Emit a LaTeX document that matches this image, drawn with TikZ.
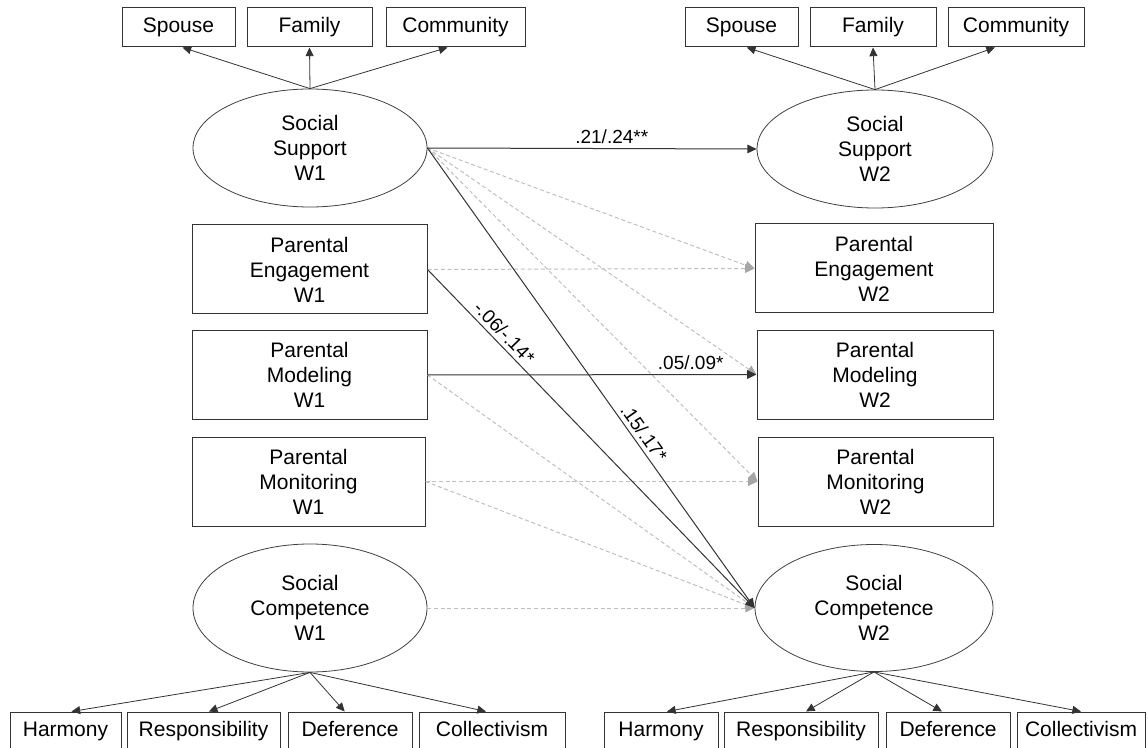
\documentclass[tikz,border=0pt]{standalone}
\usepackage{fontspec}
\setmainfont{Liberation Sans}
\usetikzlibrary{arrows.meta,shapes.geometric}

\begin{document}
\begin{tikzpicture}[x=0.75pt,y=-0.75pt,
  every node/.style={font=\fontsize{15.75pt}{18.75pt}\selectfont, inner sep=0pt, align=center},
  box/.style={draw=black!80, line width=0.75pt, rectangle, fill=white},
  latent/.style={draw=black!75, line width=0.6pt, ellipse, fill=white},
  sigpath/.style={draw=black!80, line width=0.75pt, -{Triangle[length=7pt,width=6.5pt]}},
  nspath/.style={draw=black!25, line width=0.75pt, dash pattern=on 3pt off 2pt,
    -{Triangle[length=7pt,width=6.5pt,color=black!35]}},
  loading/.style={draw=black!80, line width=0.6pt, -{Triangle[length=6.5pt,width=6pt]}},
  coef/.style={font=\fontsize{14.25pt}{16pt}\selectfont, inner sep=3pt},
  ind/.style={box, minimum height=29.25pt, text height=11.5pt, text depth=3.5pt}
]
\useasboundingbox (0,0) rectangle (1148,748);

% indicators of social support, wave 1 and wave 2
\node[ind, minimum width=84.75pt] (sp1) at (178.5,27.5) {Spouse};
\node[ind, minimum width=93.75pt] (fa1) at (309.5,27.5) {Family};
\node[ind, minimum width=104.25pt] (co1) at (455.5,27.5) {Community};
\node[ind, minimum width=84.75pt] (sp2) at (741.5,27.5) {Spouse};
\node[ind, minimum width=94.5pt] (fa2) at (873,27.5) {Family};
\node[ind, minimum width=102pt] (co2) at (1016,27.5) {Community};

% latent social support
\node[latent, minimum width=175.5pt, minimum height=88.5pt] (ss1) at (310,148) {Social\\Support\\W1};
\node[latent, minimum width=177pt, minimum height=88.5pt] (ss2) at (875,149) {Social\\Support\\W2};

% observed parenting variables
\node[box, minimum width=176.25pt, minimum height=66.75pt] (pe1) at (309.5,269.5) {Parental\\Engagement\\W1};
\node[box, minimum width=176.25pt, minimum height=66.75pt] (pm1) at (309.5,375) {Parental\\Modeling\\W1};
\node[box, minimum width=174.75pt, minimum height=66.75pt] (pmo1) at (308.5,481.5) {Parental\\Monitoring\\W1};
\node[box, minimum width=178.5pt, minimum height=66.75pt] (pe2) at (874,268.5) {Parental\\Engagement\\W2};
\node[box, minimum width=177pt, minimum height=66.75pt] (pm2) at (875,374.5) {Parental\\Modeling\\W2};
\node[box, minimum width=176.25pt, minimum height=66.75pt] (pmo2) at (875.5,481.5) {Parental\\Monitoring\\W2};

% latent social competence
\node[latent, minimum width=175.5pt, minimum height=96pt] (sc1) at (310,608) {Social\\Competence\\W1};
\node[latent, minimum width=178.5pt, minimum height=95.25pt] (sc2) at (874,608) {Social\\Competence\\W2};

% indicators of social competence
\node[ind, minimum width=83.25pt] (h1) at (65.5,731.5) {Harmony};
\node[ind, minimum width=114.75pt] (r1) at (203.5,731.5) {Responsibility};
\node[ind, minimum width=93pt] (d1) at (350,731.5) {Deference};
\node[ind, minimum width=109.5pt] (c1) at (492,731.5) {Collectivism};
\node[ind, minimum width=85.5pt] (h2) at (661,731.5) {Harmony};
\node[ind, minimum width=115.5pt] (r2) at (801,731.5) {Responsibility};
\node[ind, minimum width=93pt] (d2) at (948,731.5) {Deference};
\node[ind, minimum width=96pt] (c2) at (1081,731.5) {Collectivism};

% measurement loadings
\draw[loading] (ss1.north) -- ([xshift=3pt]sp1.south);
\draw[loading] (ss1.north) -- (fa1.south);
\draw[loading] (ss1.north) -- ([xshift=-6pt]co1.south);
\draw[loading] (ss2.north) -- ([xshift=4pt]sp2.south);
\draw[loading] (ss2.north) -- (fa2.south);
\draw[loading] (ss2.north) -- ([xshift=-15.75pt]co2.south);
\draw[loading] (sc1.south) -- ([xshift=4.5pt]h1.north);
\draw[loading] (sc1.south) -- ([xshift=4pt]r1.north);
\draw[loading] (sc1.south) -- ([xshift=-4pt]d1.north);
\draw[loading] (sc1.south) -- ([xshift=-4.5pt]c1.north);
\draw[loading] (sc2.south) -- ([xshift=4.5pt]h2.north);
\draw[loading] (sc2.south) -- ([xshift=3.75pt]r2.north);
\draw[loading] (sc2.south) -- ([xshift=-4.5pt]d2.north);
\draw[loading] (sc2.south) -- (c2.north);

% non-significant cross-lagged and stability paths
\draw[nspath] (ss1.east) -- (pe2.west);
\draw[nspath] (ss1.east) -- (pm2.west);
\draw[nspath] (ss1.east) -- (pmo2.west);
\draw[nspath] (pe1.east) -- (pe2.west);
\draw[nspath] (pm1.east) -- (sc2.west);
\draw[nspath] (pmo1.east) -- (pmo2.west);
\draw[nspath] (pmo1.east) -- (sc2.west);
\draw[nspath] (sc1.east) -- (sc2.west);

% significant paths
\draw[sigpath] (ss1.east) -- node[coef, above, pos=0.56] {.21/.24**} (ss2.west);
\draw[sigpath] (pm1.east) -- node[coef, above, pos=0.8] {.05/.09*} (pm2.west);
\draw[sigpath] (pe1.east) -- node[coef, above, sloped, pos=0.21] {-.06/-.14*} (sc2.west);
\draw[sigpath] (ss1.east) -- node[coef, above, sloped, pos=0.634] {.15/.17*} (sc2.west);
\end{tikzpicture}
\end{document}
